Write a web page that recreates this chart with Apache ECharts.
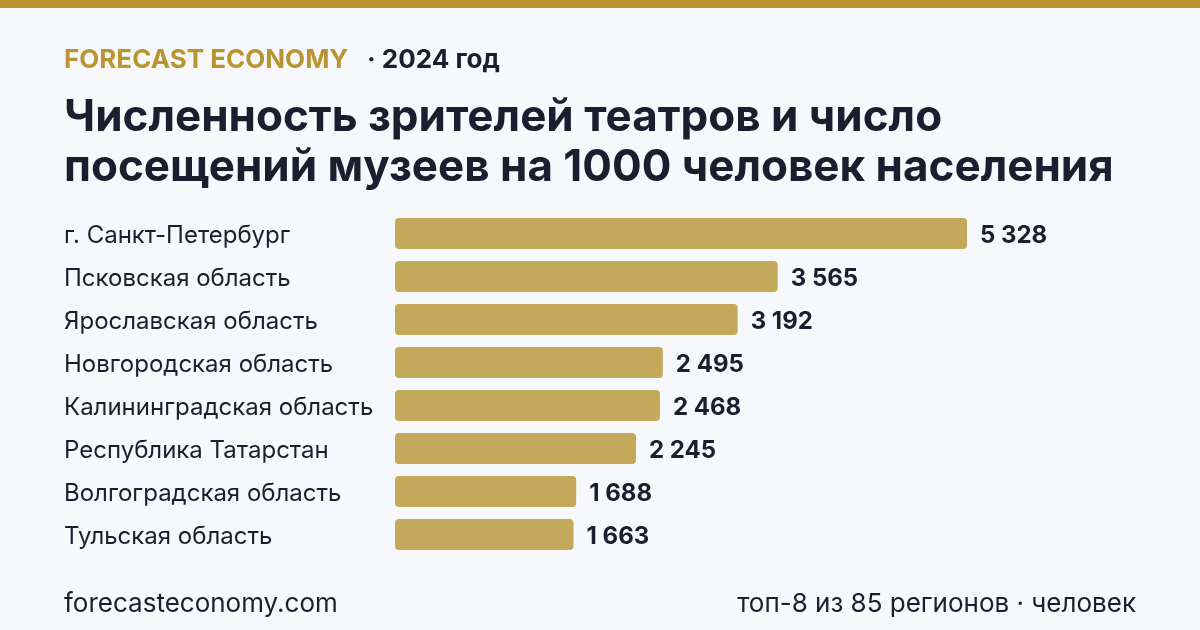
<!DOCTYPE html>
<html>
<head>
<meta charset="utf-8">
<script src="https://cdn.jsdelivr.net/npm/echarts@6/dist/echarts.min.js"></script>
<style>
  html, body { margin: 0; padding: 0; background: #f7f8fc; }
  #chart_container { width: 1200px; height: 630px; }
</style>
</head>
<body>
<div id="chart_container"></div>
<script>
// data
const regions = [
  "г. Санкт-Петербург",
  "Псковская область",
  "Ярославская область",
  "Новгородская область",
  "Калининградская область",
  "Республика Татарстан",
  "Волгоградская область",
  "Тульская область"
];
const values = [5328, 3565, 3192, 2495, 2468, 2245, 1688, 1663];

const brand = "FORECAST ECONOMY";
const yearText = "· 2024 год";
const titleLines = [
  "Численность зрителей театров и число",
  "посещений музеев на 1000 человек населения"
];
const siteText = "forecasteconomy.com";
const noteText = "топ-8 из 85 регионов · человек";

const gold = "#b8952f";
const barColor = "#c4a95b";
const ink = "#1d1d2f";
const font = "Inter, 'Noto Sans', sans-serif";

function fmt(v) {
  return String(v).replace(/\B(?=(\d{3})+(?!\d))/g, " ");
}

document.addEventListener("DOMContentLoaded", function () {
  let chart = echarts.init(document.getElementById('chart_container'));

  let option = {
    backgroundColor: "#f7f8fc",
    animation: false,
    textStyle: { fontFamily: font },
    graphic: [
      { type: "rect", left: 0, top: 0, shape: { width: 1200, height: 8 }, style: { fill: gold } },
      { type: "text", left: 64, top: 47, style: { text: brand, font: "bold 26px " + font, fill: gold } },
      { type: "text", left: 367, top: 47, style: { text: yearText, font: "bold 26px " + font, fill: ink } },
      { type: "text", left: 64, top: 93, style: { text: titleLines.join("\n"), font: "bold 44px " + font, fill: ink, lineHeight: 50 } },
      { type: "text", left: 64, top: 591, style: { text: siteText, font: "26px " + font, fill: ink } },
      { type: "text", right: 64, top: 591, style: { text: noteText, font: "26px " + font, fill: ink, align: "right" } }
    ],
    grid: { left: 395, width: 600, top: 212, height: 344 },
    xAxis: {
      type: "value",
      min: 0,
      max: 5589,
      show: false
    },
    yAxis: {
      type: "category",
      inverse: true,
      data: regions,
      axisLine: { show: false },
      axisTick: { show: false },
      axisLabel: {
        align: "left",
        margin: 331,
        formatter: v => "{a|" + v + "}",
        rich: {
          a: {
            fontSize: 24,
            color: ink,
            fontFamily: font,
            padding: [5, 0, 0, 0]
          }
        }
      }
    },
    series: [{
      type: "bar",
      data: values,
      barWidth: 31,
      itemStyle: { color: barColor, borderRadius: 4 },
      label: {
        show: true,
        position: "right",
        distance: 13,
        offset: [0, 2],
        formatter: p => fmt(p.value),
        fontSize: 24,
        fontWeight: "bold",
        color: ink,
        fontFamily: font
      }
    }]
  };

  chart.setOption(option);
});
</script>
</body>
</html>
